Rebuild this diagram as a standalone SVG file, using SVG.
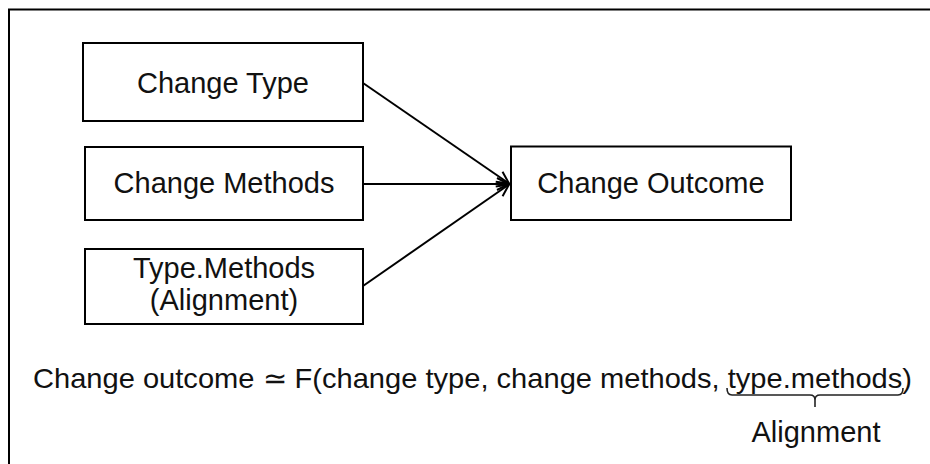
<svg xmlns="http://www.w3.org/2000/svg" width="930" height="464" viewBox="0 0 930 464">
  <style>
    .box { fill: #fff; stroke: #000; stroke-width: 2; }
    .lbl { font-family: "Liberation Sans", Arial, sans-serif; font-size: 29px; fill: #111; text-anchor: middle; }
    .formula { font-family: "Liberation Sans", Arial, sans-serif; font-size: 28px; fill: #111; }
    .edge { fill: none; stroke: #000; stroke-width: 2; }
  </style>
  <defs>
    <marker id="open-arrow" viewBox="0 0 14 14" refX="13" refY="7" markerWidth="14" markerHeight="14" markerUnits="userSpaceOnUse" orient="auto">
      <path d="M1,1 L13,7 L1,13" fill="none" stroke="#000" stroke-width="2"/>
    </marker>
  </defs>

  <rect width="930" height="464" fill="#fff"/>
  <!-- outer frame -->
  <rect x="9" y="9.5" width="1000" height="1000" fill="none" stroke="#000" stroke-width="2"/>

  <g id="connectors">
    <line class="edge" x1="363" y1="83" x2="509" y2="183.5" marker-end="url(#open-arrow)"/>
    <line class="edge" x1="363" y1="184" x2="509" y2="184" marker-end="url(#open-arrow)"/>
    <line class="edge" x1="363" y1="286" x2="509" y2="184.5" marker-end="url(#open-arrow)"/>
  </g>

  <g id="change-type">
    <rect class="box" x="83" y="43" width="280" height="78"/>
    <text class="lbl" x="223" y="93">Change Type</text>
  </g>
  <g id="change-methods">
    <rect class="box" x="85" y="147" width="278" height="73"/>
    <text class="lbl" x="224" y="193">Change Methods</text>
  </g>
  <g id="type-methods">
    <rect class="box" x="85" y="249" width="278" height="75"/>
    <text class="lbl" x="224" y="278">Type.Methods</text>
    <text class="lbl" x="224" y="310">(Alignment)</text>
  </g>
  <g id="change-outcome">
    <rect class="box" x="511" y="146.5" width="280" height="73.5"/>
    <text class="lbl" x="651" y="193">Change Outcome</text>
  </g>

  <g id="formula">
    <text class="formula" x="33" y="388" textLength="879" lengthAdjust="spacingAndGlyphs">Change outcome ≃ F(change type, change methods, type.methods)</text>
    <!-- underbrace beneath type.methods -->
    <path d="M727,388 Q727,395 732,395 L810,395 Q815,395 815,400 L815,407 M815,400 Q815,395 820,395 L898,395 Q903,395 903,388" fill="none" stroke="#222" stroke-width="1.6"/>
    <text class="formula" x="816" y="442" text-anchor="middle" style="font-size:29px">Alignment</text>
  </g>
</svg>
